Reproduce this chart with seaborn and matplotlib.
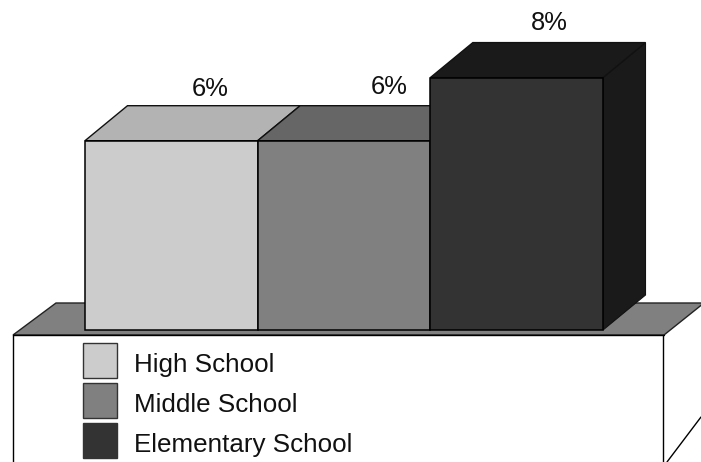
import matplotlib
matplotlib.use("Agg")
import matplotlib.pyplot as plt
from matplotlib.patches import Polygon
from matplotlib.lines import Line2D
import pandas as pd
import seaborn as sns

# Share of students per school level, in percent
levels = ["High School", "Middle School", "Elementary School"]
shares = [6, 6, 8]
share_labels = ["6%", "6%", "8%"]

front_colors = ["#cccccc", "#808080", "#333333"]
top_colors = ["#b3b3b3", "#666666", "#1a1a1a"]
side_color = "#1a1a1a"
floor_color = "#808080"

W, H = 701, 462
BAR_LEFT, BAR_RIGHT, BASE_Y = 85, 603, 330
PX_PER_CAT = (BAR_RIGHT - BAR_LEFT) / len(levels)
PX_PER_UNIT = 31.55
DEPTH_X, DEPTH_Y = 42.5, 35
LABEL_SHIFT = [(39, 52), (45, 54), (33, 55)]  # label centre relative to bar top centre, pixels

sns.set_theme(style="white", rc={"font.family": ["Liberation Sans", "DejaVu Sans"]})
fig = plt.figure(figsize=(W / 100, H / 100), dpi=100)
ax = fig.add_axes([0, 0, 1, 1])

data = pd.DataFrame({"level": levels, "share": shares})
sns.barplot(data=data, x="level", y="share", hue="level", order=levels, hue_order=levels,
            palette=front_colors, width=1.0, edgecolor="black", linewidth=1.1,
            saturation=1, legend=True, ax=ax, zorder=5)

x0 = -0.5 - BAR_LEFT / PX_PER_CAT
ax.set_xlim(x0, x0 + W / PX_PER_CAT)
ax.set_ylim(-(H - BASE_Y) / PX_PER_UNIT, BASE_Y / PX_PER_UNIT)
ax.axis("off")

dx = DEPTH_X / PX_PER_CAT
dy = DEPTH_Y / PX_PER_UNIT
px = lambda x: x0 + x / PX_PER_CAT
py = lambda y: (BASE_Y - y) / PX_PER_UNIT

# Floor slab and the open box underneath it
ax.add_patch(Polygon([(px(13), py(335)), (px(56), py(303)), (px(704), py(303)), (px(664), py(335))],
                     closed=True, facecolor=floor_color, edgecolor="#222222", lw=1.0, zorder=1))
box_lines = [([13, 13], [335, 462]), ([13, 664], [335, 335]),
             ([663, 663], [335, 462]), ([667, 701], [462, 417])]
for xs, ys in box_lines:
    ax.add_line(Line2D([px(v) for v in xs], [py(v) for v in ys], color="black", lw=1.0, zorder=2))

# Extruded side and top faces follow the geometry of each drawn bar
bars = [c[0] for c in ax.containers]
for i, (bar, top_c) in enumerate(zip(bars, top_colors)):
    left, right = bar.get_x(), bar.get_x() + bar.get_width()
    top = bar.get_height()
    ax.add_patch(Polygon([(right, 0), (right + dx, dy), (right + dx, top + dy), (right, top)],
                         closed=True, facecolor=side_color, edgecolor="#111111", lw=0.8, zorder=3 + i * 0.1))
    ax.add_patch(Polygon([(left, top), (left + dx, top + dy), (right + dx, top + dy), (right, top)],
                         closed=True, facecolor=top_c, edgecolor="#111111", lw=1.0, zorder=3.05 + i * 0.1))
    sx, sy = LABEL_SHIFT[i]
    ax.annotate(share_labels[i], xy=((left + right) / 2, top), xytext=(sx * 0.72, sy * 0.72),
                textcoords="offset points", ha="center", va="center", fontsize=18.4,
                color="#111111", zorder=6)

handles, labels = ax.get_legend_handles_labels()
leg = ax.legend(handles, labels, loc="upper left", bbox_to_anchor=(83 / W, 1 - 343 / H),
                bbox_transform=fig.transFigure, frameon=False, fontsize=18.7,
                borderaxespad=0, borderpad=0, handlelength=1.31, handleheight=1.69,
                handletextpad=0.65, labelspacing=0.2, labelcolor="#111111")
for patch in leg.get_patches():
    patch.set_edgecolor("#333333")
    patch.set_linewidth(1.0)
# Sit the legend labels slightly lower against their swatches
for label in leg.get_texts():
    label.set_position((0, -3))
leg.set_zorder(6)

fig.savefig("out.png", dpi=100, facecolor="white")
